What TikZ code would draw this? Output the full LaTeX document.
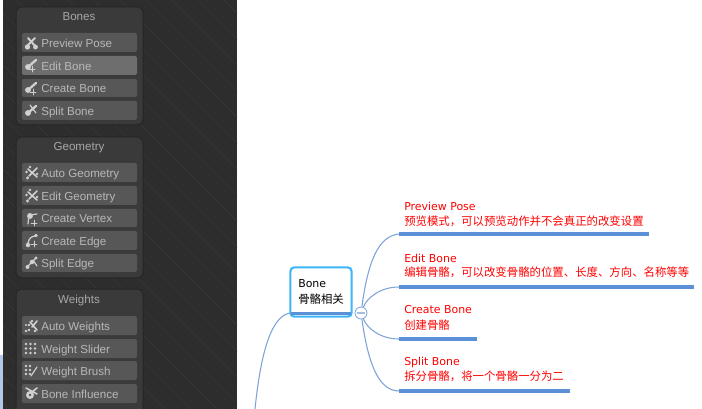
\documentclass[tikz,border=0pt]{standalone}
\usepackage{fontspec}
\setmainfont{Liberation Sans}
\newfontfamily\mapfont{DejaVu Sans}
\newfontfamily\cjkfont{Noto Sans CJK SC}
\definecolor{bgdark}{HTML}{2D2D2D}
\definecolor{stripe}{HTML}{383838}
\definecolor{panelfill}{HTML}{3A3A3A}
\definecolor{paneledge}{HTML}{262626}
\definecolor{btnfill}{HTML}{575757}
\definecolor{btnhot}{HTML}{6E6E6E}
\definecolor{btntext}{HTML}{B8B8B8}
\definecolor{titletext}{HTML}{A8A8A8}
\definecolor{iconink}{HTML}{D0D0D0}
\definecolor{branch}{HTML}{7FA3D8}
\definecolor{under}{HTML}{5B8FD6}
\definecolor{boxedge}{HTML}{3BB6F7}
\definecolor{mapred}{HTML}{FF0000}
\tikzset{
  x=0.75pt,y=-0.75pt,
  panel/.style={draw=paneledge,line width=0.75pt,fill=panelfill,rounded corners=4pt},
  btn/.style={fill=btnfill,draw=none,rounded corners=1.5pt},
  btnhotfill/.style={fill=btnhot,draw=none,rounded corners=1.5pt},
  btnlabel/.style={anchor=base west,inner sep=0pt,text=btntext,font=\fontsize{8.7pt}{10pt}\selectfont},
  paneltitle/.style={anchor=base,inner sep=0pt,text=titletext,font=\fontsize{8.7pt}{10pt}\selectfont},
  ink/.style={draw=iconink,line width=0.9pt,line cap=round},
  dotink/.style={fill=iconink,draw=none},
  bonebox/.style={draw=boxedge,line width=1.6pt,fill=white,rounded corners=3pt,minimum width=46pt,minimum height=37pt,inner sep=0pt},
  collapse/.style={circle,draw=branch,fill=white,line width=0.6pt,minimum size=9pt,inner sep=0pt},
  link/.style={draw=branch,line width=0.8pt},
  underline/.style={draw=under,line width=2.6pt},
  maptext/.style={anchor=west,inner sep=0pt,text=mapred,font=\mapfont\fontsize{8.2pt}{10pt}\selectfont},
  mapcjk/.style={anchor=west,inner sep=0pt,text=mapred,font=\cjkfont\fontsize{8.55pt}{10pt}\selectfont},
}
\newcommand{\btnrow}[5]{% name, style, top, bottom, text
  \path[#2] (22,#3) rectangle (137,#4);
  \node[btnlabel] (#1) at (41,{(#3+#4)/2+4.8}) {#5};
}
\newcommand{\icbones}[1]{% crossed bones, centre y
  \draw[ink,line width=1.5pt] (28,#1-5) -- (36,#1+4);
  \draw[ink,line width=1.5pt] (35,#1-5) -- (27,#1+3);
  \fill[dotink] (27.5,#1+4) circle (2pt) (35.5,#1+4) circle (1.8pt);
}
\newcommand{\icbonetilt}[1]{%
  \draw[ink,line width=1.7pt] (28,#1+2) -- (36,#1-5);
  \fill[dotink] (28,#1+2) circle (2.2pt);
}
\newcommand{\icdots}[1]{%
  \draw[ink,line width=1.2pt] (28,#1-4) -- (37,#1+4) (37,#1-5) -- (29,#1+3);
  \fill[dotink] (26.5,#1-1) circle (1pt) (30,#1-6) circle (1pt) (37,#1+1) circle (1pt) (27.5,#1+5) circle (1.3pt);
}
\newcommand{\icplus}[2]{\draw[ink,line width=0.7pt] (#1-3,#2) -- (#1+3,#2) (#1,#2-3) -- (#1,#2+3);}
\begin{document}
\begin{tikzpicture}
\useasboundingbox (0,0) rectangle (702,409);
\fill[white] (0,0) rectangle (702,409);
\fill[bgdark] (3,0) rectangle (237,409);
\fill[branch!60!white] (0,355) rectangle (3,409);
\begin{scope}
  \clip (3,0) rectangle (237,409);
  \foreach \k in {-400,-374,...,240} \draw[stripe,line width=0.5pt] (\k,0) -- (\k+409,409);
\end{scope}

% Bones
\path[panel] (16,7) rectangle (143,125);
\node[paneltitle] (bonesT) at (79,21) {Bones};
\btnrow{b1}{btn}{33}{52}{Preview Pose}
\btnrow{b2}{btnhotfill}{56}{75}{Edit Bone}
\btnrow{b3}{btn}{79}{97}{Create Bone}
\btnrow{b4}{btn}{101}{120}{Split Bone}
\icbones{43}
\icbonetilt{65}\icplus{32}{69}
\icbonetilt{88}\icplus{33}{92}
\icbonetilt{111}\draw[ink] (30,105) -- (36,113);

% Geometry
\path[panel] (16,137) rectangle (143,278);
\node[paneltitle] (geoT) at (79,151) {Geometry};
\btnrow{g1}{btn}{163}{182}{Auto Geometry}
\btnrow{g2}{btn}{186}{205}{Edit Geometry}
\btnrow{g3}{btn}{209}{227}{Create Vertex}
\btnrow{g4}{btn}{231}{250}{Create Edge}
\btnrow{g5}{btn}{254}{272}{Split Edge}
\icdots{173}
\icdots{196}
\draw[ink] (29,214) -- (28,224) (30,215) -- (37,214);
\fill[dotink] (30,216) circle (2.2pt);\icplus{34}{223}
\draw[ink] (28,243) .. controls (29,238) and (32,236) .. (36,236);
\fill[dotink] (28,245) circle (1.7pt) (36,235.5) circle (1.4pt);\icplus{34}{244}
\draw[ink] (28,266) -- (36,258) (33,260) -- (37,266);
\fill[dotink] (27.5,267) circle (1.5pt) (32,262) circle (1.7pt) (36,258) circle (1.2pt);

% Weights
\path[panel] (16,289) rectangle (143,416);
\node[paneltitle] (wgtT) at (79,303) {Weights};
\btnrow{w1}{btn}{316}{335}{Auto Weights}
\btnrow{w2}{btn}{339}{358}{Weight Slider}
\btnrow{w3}{btn}{361}{380}{Weight Brush}
\btnrow{w4}{btn}{384}{403}{Bone Influence}
\draw[ink,line width=1.2pt] (30,322) -- (37,330) (37,321) -- (32,327);
\fill[dotink] (26,331) circle (1pt) (29,325) circle (1pt) (32,321) circle (1pt) (26,325) circle (.8pt) (29,330) circle (1pt) (35,331) circle (1pt);
\foreach \yy in {344,348.5,353} \foreach \xx in {26,30.5,35} \fill[dotink] (\xx,\yy) circle (1.1pt);
\foreach \yy in {366,370,374} \foreach \xx in {26,30} \fill[dotink] (\xx,\yy) circle (1pt);
\draw[ink] (31,376) -- (37,367);
\draw[ink,line width=1.2pt] (26,388) -- (37,394) (37,388) -- (32,392);
\fill[dotink] (30,395) circle (3pt);
\fill[btnfill] (30,395) circle (1pt);

% Mind map
\node[bonebox] (bone) at (321,292) {};
\draw[underline] ([xshift=1.5pt,yshift=3pt]bone.south west) -- ([xshift=-1.5pt,yshift=3pt]bone.south east);
\node[anchor=west,inner sep=0pt,font=\mapfont\fontsize{8.2pt}{10pt}\selectfont] (boneEn) at (298,284) {Bone};
\node[anchor=west,inner sep=0pt,font=\cjkfont\fontsize{8.55pt}{10pt}\selectfont] (boneCn) at (298,299) {骨骼相关};

\coordinate (pvA) at (399,234); \coordinate (pvB) at (649,234);
\coordinate (edA) at (399,287); \coordinate (edB) at (694,287);
\coordinate (crA) at (399,339); \coordinate (crB) at (477,339);
\coordinate (spA) at (399,391); \coordinate (spB) at (570,391);
\coordinate (leftEnd) at (255,409);
\coordinate (boneL) at (290,313);

\node[collapse] (fold) at (361,313) {};
\draw[link] (fold) .. controls (368,262) and (378,236) .. (pvA);
\draw[link] (fold) .. controls (367,298) and (380,287) .. (edA);
\draw[link] (fold) .. controls (367,328) and (380,339) .. (crA);
\draw[link] (fold) .. controls (368,362) and (378,391) .. (spA);
\draw[link] (boneL) .. controls (272,316) and (261,350) .. (leftEnd);
\draw[draw=branch!70!white,line width=1pt] (fold.center)++(-4,0) -- ++(8,0);

\draw[underline] (pvA) -- (pvB);
\draw[underline] (edA) -- (edB);
\draw[underline] (crA) -- (crB);
\draw[underline] (spA) -- (spB);

\node[maptext] (t1) at (404,206) {Preview Pose};
\node[mapcjk] (c1) at (404,221) {预览模式，可以预览动作并不会真正的改变设置};
\node[maptext] (t2) at (404,258) {Edit Bone};
\node[mapcjk] (c2) at (404,272) {编辑骨骼，可以改变骨骼的位置、长度、方向、名称等等};
\node[maptext] (t3) at (404,310) {Create Bone};
\node[mapcjk] (c3) at (404,325) {创建骨骼};
\node[maptext] (t4) at (404,362) {Split Bone};
\node[mapcjk] (c4) at (404,376) {拆分骨骼，将一个骨骼一分为二};
\end{tikzpicture}
\end{document}
